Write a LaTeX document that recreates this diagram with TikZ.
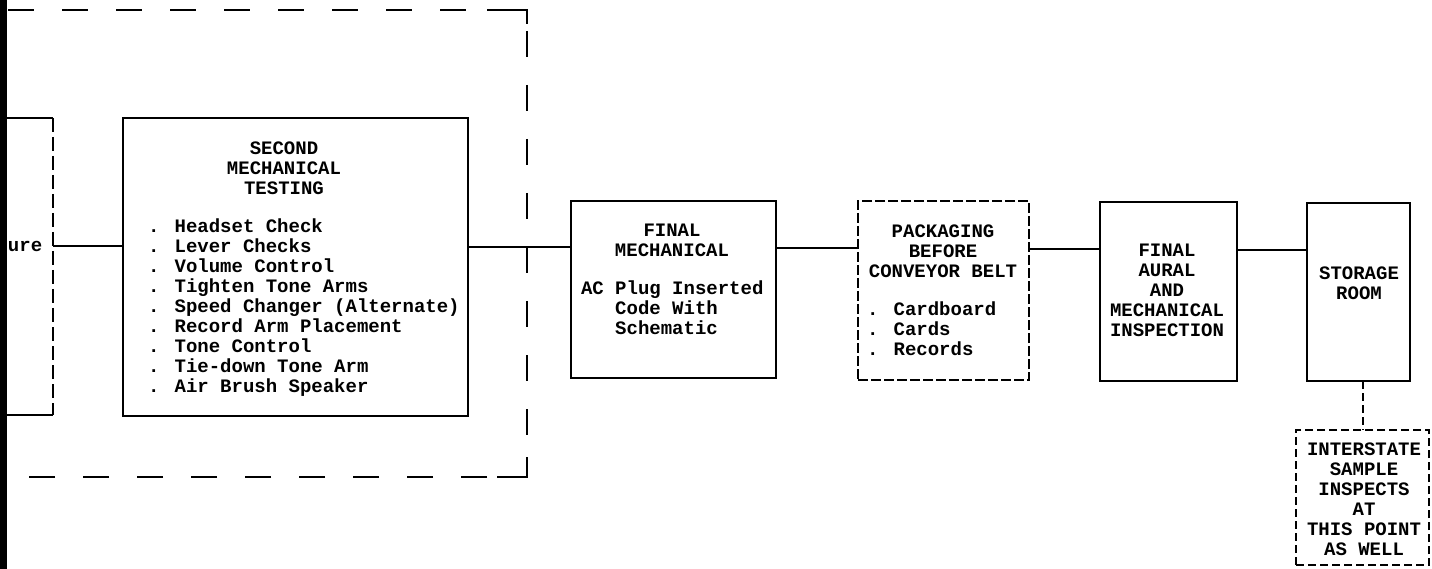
\documentclass[tikz,border=0pt]{standalone}
\usepackage{fontspec}
\newfontfamily\dotfont{Liberation Mono}
\begin{document}
\begin{tikzpicture}[x=1pt,y=-1pt,
  every node/.style={font=\dotfont\bfseries\fontsize{19}{19.9}\selectfont, inner sep=0pt, outer sep=0pt},
  box/.style={draw, line width=2.2pt},
  dbox/.style={draw, line width=2.2pt, dash pattern=on 10pt off 3pt},
  ibox/.style={draw, line width=2pt, dash pattern=on 8pt off 4pt},
  bigdash/.style={line width=2.4pt, dash pattern=on 26pt off 28pt, dash phase=-4pt},
  corner/.style={line width=2.4pt},
  conn/.style={line width=2.2pt},
  thinedge/.style={line width=1.3pt, dash pattern=on 14pt off 5pt},
  txt/.style={align=center},
  lst/.style={align=left, anchor=west}]
\useasboundingbox (0,0) rectangle (1432,569);
% group frame
\node[minimum width=523pt, minimum height=467pt] (grp) at (265.5,243.5) {};
\draw[bigdash] (grp.north west) -- (grp.north east) -- (grp.south east) -- (grp.south west);
\draw[corner] ([xshift=-40pt]grp.north east) -- (grp.north east) -- ([yshift=-14pt]grp.north east);
\draw[corner] ([yshift=20pt]grp.south east) -- (grp.south east) -- ([xshift=-30pt]grp.south east);
% boxes
\node[minimum width=100pt, minimum height=297pt] (lb) at (3,266.5) {};
\draw[conn] (lb.north west) -- (lb.north east);
\draw[thinedge] (lb.north east) -- (lb.south east);
\draw[conn] (lb.south west) -- (lb.south east);
\node[box, minimum width=345pt, minimum height=298pt] (smt) at (295.5,267) {};
\node[box, minimum width=205pt, minimum height=177pt] (fm) at (673.5,289.5) {};
\node[dbox, minimum width=171pt, minimum height=179pt] (pk) at (943.5,290.5) {};
\node[box, minimum width=137pt, minimum height=179pt] (fa) at (1168.5,291.5) {};
\node[box, minimum width=103pt, minimum height=178pt] (st) at (1358.5,292) {};
\node[ibox, minimum width=133pt, minimum height=135pt] (is) at (1362.5,497.5) {};
% black bar
\fill (0,0) rectangle (7,569);
% connectors
\coordinate (cya) at (0,246);
\coordinate (cyb) at (0,247);
\coordinate (cyc) at (0,248);
\coordinate (cyd) at (0,249);
\coordinate (cye) at (0,250);
\draw[conn] (lb.east |- cya) -- (smt.west |- cya);
\draw[conn] (smt.east |- cyb) -- (fm.west |- cyb);
\draw[conn] (fm.east |- cyc) -- (pk.west |- cyc);
\draw[conn] (pk.east |- cyd) -- (fa.west |- cyd);
\draw[conn] (fa.east |- cye) -- (st.west |- cye);
\draw[ibox] (is.north |- st.south) -- (is.north);
% texts
\node[anchor=west] (ure) at (8,246) {ure};
\node[txt] (smtT) at (284,168.5) {SECOND\\MECHANICAL\\TESTING};
\node[lst] (smtL) at (148,307.5) {. Headset Check\\. Lever Checks\\. Volume Control\\. Tighten Tone Arms\\. Speed Changer (Alternate)\\. Record Arm Placement\\. Tone Control\\. Tie-down Tone Arm\\. Air Brush Speaker};
\node[txt] (fmT) at (672,240.5) {FINAL\\MECHANICAL};
\node[lst] (fmL) at (581,308) {AC Plug Inserted\\\hphantom{AC }Code With\\\hphantom{AC }Schematic};
\node[txt] (pkT) at (943,251.5) {PACKAGING\\BEFORE\\CONVEYOR BELT};
\node[lst] (pkL) at (867,329) {. Cardboard\\. Cards\\. Records};
\node[txt] (faT) at (1167,290.5) {FINAL\\AURAL\\AND\\MECHANICAL\\INSPECTION};
\node[txt] (stT) at (1359,283.5) {STORAGE\\ROOM};
\node[txt] (isT) at (1364,499) {INTERSTATE\\SAMPLE\\INSPECTS\\AT\\THIS POINT\\AS WELL};
\end{tikzpicture}
\end{document}
